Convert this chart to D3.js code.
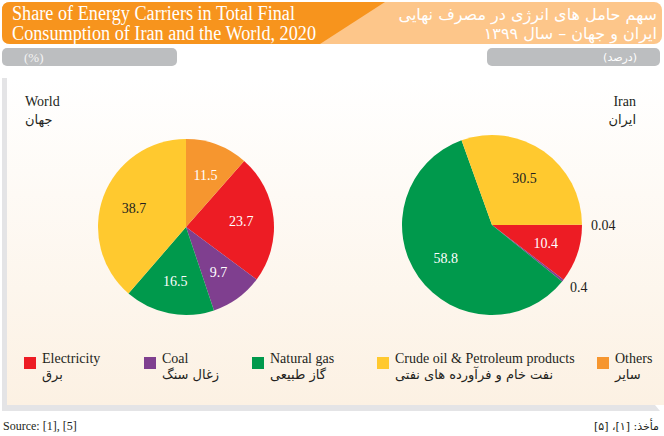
<!DOCTYPE html>
<html><head><meta charset="utf-8">
<script src="https://cdn.jsdelivr.net/npm/d3@7"></script>
<style>
html,body{margin:0;padding:0;background:#fff;}
svg{display:block;}
</style></head>
<body>
<svg id="chart" width="664" height="436"></svg>
<script>
// ---- data ----
const categories = ["Electricity", "Coal", "Natural gas", "Crude oil & Petroleum products", "Others"];
const categoriesFa = ["برق", "زغال سنگ", "گاز طبیعی", "نفت خام و فرآورده های نفتی", "سایر"];
const colors = ["#ED1C24", "#7F3F8F", "#00994C", "#FFC92F", "#F6962F"];
const worldValues = [23.7, 9.7, 16.5, 38.7, 11.5];
const iranValues = [10.4, 0.4, 58.8, 30.5, 0.04];
const titleEn = ["Share of Energy Carriers in Total Final", "Consumption of Iran and the World, 2020"];
const titleFa = ["سهم حامل های انرژی در مصرف نهایی", "ایران و جهان – سال ۱۳۹۹"];

const svg = d3.select("#chart");
const defs = svg.append("defs");
const grad = defs.append("linearGradient").attr("id","bg").attr("x1",0).attr("y1",0).attr("x2",0).attr("y2",1);
grad.append("stop").attr("offset","0%").attr("stop-color","#ffffff");
grad.append("stop").attr("offset","100%").attr("stop-color","#fcf1e3");

// header
svg.append("rect").attr("x",2).attr("y",2).attr("width",660).attr("height",42).attr("rx",8).attr("fill","#FDC68A");
svg.append("path").attr("d","M10,2 L385,2 L320,44 L10,44 Q2,44 2,36 L2,10 Q2,2 10,2 Z").attr("fill","#F7941D");
const serif = "'Liberation Serif','Times New Roman',serif";
const faFont = "'DejaVu Sans',sans-serif";
svg.append("text").attr("x",12).attr("y",20).attr("font-family",serif).attr("font-size",20).attr("fill","#fff")
  .attr("textLength",283).attr("lengthAdjust","spacingAndGlyphs").text(titleEn[0]);
svg.append("text").attr("x",12).attr("y",40).attr("font-family",serif).attr("font-size",20).attr("fill","#fff")
  .attr("textLength",304).attr("lengthAdjust","spacingAndGlyphs").text(titleEn[1]);
svg.append("text").attr("x",657).attr("y",20).attr("text-anchor","end").attr("font-family",faFont).attr("font-size",16).attr("fill","#fff").text(titleFa[0]);
svg.append("text").attr("x",657).attr("y",39).attr("text-anchor","end").attr("font-family",faFont).attr("font-size",16).attr("fill","#fff").text(titleFa[1]);

// unit bars
svg.append("rect").attr("x",2).attr("y",48).attr("width",175).attr("height",18).attr("rx",5).attr("fill","#BCBEC0");
svg.append("rect").attr("x",487).attr("y",48).attr("width",173).attr("height",18).attr("rx",5).attr("fill","#BCBEC0");
svg.append("text").attr("x",24).attr("y",62).attr("font-family",serif).attr("font-size",13).attr("fill","#f4f4f4").text("(%)");
svg.append("text").attr("x",637).attr("y",61).attr("text-anchor","end").attr("font-family",faFont).attr("font-size",11).attr("fill","#fff").text("(درصد)");

// panel
svg.append("rect").attr("x",2).attr("y",78).attr("width",658).attr("height",333).attr("fill","#E4E4E6");
svg.append("rect").attr("x",7).attr("y",78).attr("width",657).attr("height",327).attr("fill","url(#bg)");
svg.append("path").attr("d","M655,405 L664,405 L664,411 L660,411 Z").attr("fill","#fff");

// pies
function drawPie(values, cx, cy, r, startAngle, nameEn, nameFa, nameX, anchor) {
  const total = d3.sum(values);
  const pie = d3.pie().sort(null).value(d => d).startAngle(startAngle).endAngle(startAngle + 2*Math.PI);
  const arcs = pie(values);
  const arc = d3.arc().innerRadius(0).outerRadius(r);
  const labelArc = d3.arc().innerRadius(r*0.63).outerRadius(r*0.63);
  const g = svg.append("g").attr("transform",`translate(${cx},${cy})`);
  g.selectAll("path").data(arcs).join("path").attr("d",arc).attr("fill",(d,i)=>colors[i]);
  arcs.forEach((d,i) => {
    const share = d.value/total;
    if (share < 0.02) {
      const a = (d.startAngle + d.endAngle)/2;
      const R = r + 9;
      g.append("text").attr("x",R*Math.sin(a)).attr("y",-R*Math.cos(a)).attr("dy","0.4em")
        .attr("font-family",serif).attr("font-size",14).attr("fill","#231F20").text(d.value);
    } else {
      const c = labelArc.centroid(d);
      g.append("text").attr("x",c[0]).attr("y",c[1]).attr("dy","0.35em").attr("text-anchor","middle")
        .attr("font-family",serif).attr("font-size",14).attr("fill", i===3 ? "#231F20" : "#fff").text(d.value);
    }
  });
  svg.append("text").attr("x",nameX).attr("y",106).attr("text-anchor",anchor).attr("font-family",serif).attr("font-size",14).attr("fill","#231F20").text(nameEn);
  svg.append("text").attr("x",nameX).attr("y",124).attr("text-anchor",anchor).attr("font-family",faFont).attr("font-size",13).attr("fill","#231F20").text(nameFa);
}
const worldTotal = d3.sum(worldValues);
drawPie(worldValues, 186, 227, 88, 2*Math.PI*worldValues[4]/worldTotal, "World", "جهان", 25, "start");
drawPie(iranValues, 492, 225, 90, Math.PI/2, "Iran", "ایران", 636, "end");

// legend
const legendX = [24, 144, 252, 377, 597];
const lg = svg.append("g");
categories.forEach((c,i) => {
  lg.append("rect").attr("x",legendX[i]).attr("y",357).attr("width",12).attr("height",12).attr("fill",colors[i]);
  lg.append("text").attr("x",legendX[i]+18).attr("y",363).attr("font-family",serif).attr("font-size",14).attr("fill","#231F20").text(c);
  lg.append("text").attr("x",legendX[i]+18).attr("y",379).attr("font-family",faFont).attr("font-size",13).attr("fill","#231F20").text(categoriesFa[i]);
});

// source
svg.append("text").attr("x",3).attr("y",430).attr("font-family",serif).attr("font-size",12).attr("fill","#231F20").text("Source: [1], [5]");
svg.append("text").attr("x",659).attr("y",430).attr("text-anchor","end").attr("font-family",faFont).attr("font-size",11).attr("fill","#231F20").text("مأخذ: [۱]، [۵]");
</script>
</body></html>
